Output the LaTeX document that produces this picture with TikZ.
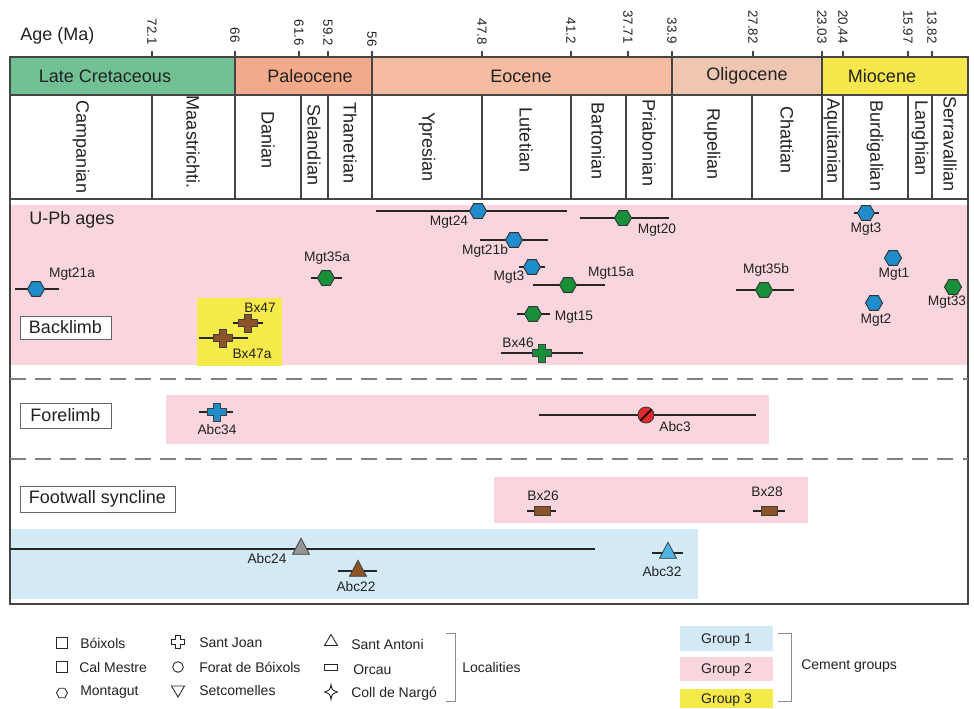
\documentclass[tikz,border=0pt]{standalone}
\usepackage{fontspec}
\setmainfont{Liberation Sans}
\definecolor{lcgreen}{HTML}{72C194}
\definecolor{paleoc}{HTML}{F2AA8A}
\definecolor{eocc}{HTML}{F5BCA1}
\definecolor{oligc}{HTML}{EEC6B1}
\definecolor{mioc}{HTML}{F6E84C}
\definecolor{grppink}{HTML}{F9D6DD}
\definecolor{grpblue}{HTML}{D3EAF6}
\definecolor{grpyel}{HTML}{F6E94A}
\definecolor{mblue}{HTML}{1F8DCB}
\definecolor{mgreen}{HTML}{18903A}
\definecolor{mbrown}{HTML}{8B5326}
\definecolor{mgray}{HTML}{959595}
\definecolor{mlblue}{HTML}{4DB5E0}
\definecolor{mred}{HTML}{E32A2A}
\definecolor{txt}{HTML}{222222}
\definecolor{frm}{HTML}{454545}
\begin{document}
\begin{tikzpicture}[x=0.75pt,y=-0.75pt,
  frame/.style={draw=frm, line width=0.9pt},
  big/.style={text=txt, font=\fontsize{13.5}{15}\selectfont, inner sep=0pt},
  stagelab/.style={big, rotate=-90},
  ticklab/.style={text=txt, font=\fontsize{10}{12}\selectfont, inner sep=0pt, rotate=-90, anchor=east},
  dlab/.style={text=txt, font=\fontsize{10.3}{12}\selectfont, inner sep=0pt},
  leg/.style={text=txt, font=\fontsize{10.5}{12}\selectfont, inner sep=0pt, anchor=west},
  ebar/.style={draw=black!85, line width=0.9pt},
  boxlab/.style={draw=black!60, fill=white, line width=0.6pt},
  dashsep/.style={draw=black!50, line width=1.1pt, dash pattern=on 12pt off 6.8pt},
  legsym/.style={draw=black!85, line width=0.65pt, fill=none},
  pics/hexm/.style={code={\draw[fill=#1, draw=black!80, line width=0.7pt] (0:8.5)--(60:8.5)--(120:8.5)--(180:8.5)--(240:8.5)--(300:8.5)--cycle;}},
  pics/hexleg/.style={code={\draw[legsym] (0:5.5)--(60:5.5)--(120:5.5)--(180:5.5)--(240:5.5)--(300:5.5)--cycle;}},
  pics/crossm/.style={code={\draw[fill=#1, draw=black!75, line width=0.6pt] (-3.5,-9)--(3.5,-9)--(3.5,-3.4)--(9.5,-3.4)--(9.5,3.4)--(3.5,3.4)--(3.5,9)--(-3.5,9)--(-3.5,3.4)--(-9.5,3.4)--(-9.5,-3.4)--(-3.5,-3.4)--cycle;}},
  pics/trim/.style={code={\draw[fill=#1, draw=black!75, line width=0.6pt] (0,-10.7)--(8.5,5.3)--(-8.5,5.3)--cycle;}},
  pics/rectm/.style={code={\draw[fill=#1, draw=black!75, line width=0.6pt] (-8,-4.5) rectangle (8,4.5);}}
]
\useasboundingbox (0,0) rectangle (974,708);
\fill[white] (0,0) rectangle (974,708);

% epoch bar
\fill[lcgreen] (10,57) rectangle (235,95);
\fill[paleoc] (235,57) rectangle (372,95);
\fill[eocc] (372,57) rectangle (672,95);
\fill[oligc] (672,57) rectangle (822,95);
\fill[mioc] (822,57) rectangle (968,95);
\node[big] (lc) at (105,76) {Late Cretaceous};
\node[big] (pal) at (310,76) {Paleocene};
\node[big] (eoc) at (521,76) {Eocene};
\node[big] (oli) at (747,76) {Oligocene};
\node[big] (mio) at (882,76) {Miocene};

% U-Pb panel and group boxes
\fill[grppink] (10,205) rectangle (968,365);
\fill[grpyel] (197,298) rectangle (282,366);
\fill[grppink] (166,395) rectangle (769,444);
\fill[grppink] (494,477) rectangle (808,523);
\fill[grpblue] (10,529) rectangle (698,599);

% frame
\draw[frame] (10,57) rectangle (968,604);
\draw[frame] (10,95) -- (968,95);
\draw[frame] (10,199) -- (968,199);
\foreach \xx in {235,372,672,822} \draw[frame] (\xx,57) -- (\xx,95);
\foreach \xx in {152,235,301,328,372,482,571,626,672,752,822,843,908,932} \draw[frame] (\xx,95) -- (\xx,199);
\foreach \xx in {152,235,299,328,372,482,571,628,672,753,822,843,908,932} \draw[draw=frm, line width=1.3pt] (\xx,51) -- (\xx,57);

% axis
\node[big, anchor=west] (age) at (20,36) {Age (Ma)};
\node[ticklab] (t1) at (152,45) {72.1};
\node[ticklab] (t2) at (235,43) {66};
\node[ticklab] (t3) at (299,46) {61.6};
\node[ticklab] (t4) at (328,46) {59.2};
\node[ticklab] (t5) at (372,47) {56};
\node[ticklab] (t6) at (482,45) {47.8};
\node[ticklab] (t7) at (571,44) {41.2};
\node[ticklab] (t8) at (628,44) {37.71};
\node[ticklab] (t9) at (672,44) {33.9};
\node[ticklab] (t10) at (753,44) {27.82};
\node[ticklab] (t11) at (822,44) {23.03};
\node[ticklab] (t12) at (843,44) {20.44};
\node[ticklab] (t13) at (908,44) {15.97};
\node[ticklab] (t14) at (932,44) {13.82};

% stages
\node[stagelab] (s1) at (81,147) {Campanian};
\node[stagelab] (s2) at (193,142) {Maastrichti.};
\node[stagelab] (s3) at (268,140) {Danian};
\node[stagelab] (s4) at (314,145) {Selandian};
\node[stagelab] (s5) at (350,143) {Thanetian};
\node[stagelab] (s6) at (427,147) {Ypresian};
\node[stagelab] (s7) at (526,140) {Lutetian};
\node[stagelab] (s8) at (598,141) {Bartonian};
\node[stagelab] (s9) at (649,143) {Priabonian};
\node[stagelab] (s10) at (712,144) {Rupelian};
\node[stagelab] (s11) at (787,140) {Chattian};
\node[stagelab] (s12) at (832,141) {Aquitanian};
\node[stagelab] (s13) at (875,146) {Burdigalian};
\node[stagelab] (s14) at (920,138) {Langhian};
\node[stagelab] (s15) at (950,144) {Serravallian};

% dashed separators
\draw[dashsep] (10,379) -- (968,379);
\draw[dashsep] (10,459) -- (968,459);

% section labels
\node[big, anchor=west] (upb) at (29,220) {U-Pb ages};
\draw[boxlab] (20,316) rectangle (111,339);
\node[big] (back) at (65.5,327.5) {Backlimb};
\draw[boxlab] (20,403) rectangle (111,428);
\node[big] (fore) at (65.5,415.5) {Forelimb};
\draw[boxlab] (20,486) rectangle (175,512);
\node[big] (foot) at (97.5,499) {Footwall syncline};

% error bars
\draw[ebar] (376,211) -- (567,211);
\draw[ebar] (580,218) -- (669,218);
\draw[ebar] (480,240) -- (548,240);
\draw[ebar] (519,267) -- (545,267);
\draw[ebar] (533,285) -- (605,285);
\draw[ebar] (517,314) -- (550,314);
\draw[ebar] (501,353) -- (583,353);
\draw[ebar, line width=1.4pt] (736,290) -- (794,290);
\draw[ebar] (854,213) -- (879,213);
\draw[ebar] (15,289) -- (59,289);
\draw[ebar] (311,278) -- (342,278);
\draw[ebar] (233,323) -- (263,323);
\draw[ebar] (199,338) -- (248,338);
\draw[ebar] (199,412) -- (233,412);
\draw[ebar] (539,415) -- (756,415);
\draw[ebar] (527,511) -- (556,511);
\draw[ebar] (753,511) -- (785,511);
\draw[ebar] (10,549) -- (595,549);
\draw[ebar] (338,571) -- (377,571);
\draw[ebar] (652,553) -- (683,553);

% markers
\pic at (478,211) {hexm=mblue};
\pic at (623,218) {hexm=mgreen};
\pic at (514,240) {hexm=mblue};
\pic at (532,267) {hexm=mblue};
\pic at (568,285) {hexm=mgreen};
\pic at (533,314) {hexm=mgreen};
\pic at (764,290) {hexm=mgreen};
\pic at (866,213) {hexm=mblue};
\pic at (893,258) {hexm=mblue};
\pic at (874,303) {hexm=mblue};
\pic at (953,287) {hexm=mgreen};
\pic at (36,289) {hexm=mblue};
\pic at (326,278) {hexm=mgreen};
\pic at (542,353) {crossm=mgreen};
\pic at (248,323) {crossm=mbrown};
\pic at (223,338) {crossm=mbrown};
\pic at (217,412) {crossm=mblue};
\pic at (542,511) {rectm=mbrown};
\pic at (769,511) {rectm=mbrown};
\pic at (301,549) {trim=mgray};
\pic at (358,571) {trim=mbrown};
\pic at (668,553) {trim=mlblue};
\draw[fill=mred, draw=black!80, line width=0.6pt] (646,415) circle (8);
\draw[black, line width=1.2pt] (640.5,420.5) -- (651.5,409.5);

% data labels
\node[dlab] (l1) at (449,222) {Mgt24};
\node[dlab] (l2) at (657,230) {Mgt20};
\node[dlab] (l3) at (485,251) {Mgt21b};
\node[dlab] (l4) at (509,277) {Mgt3};
\node[dlab] (l5) at (611,273) {Mgt15a};
\node[dlab] (l6) at (574,317) {Mgt15};
\node[dlab] (l7) at (518,343) {Bx46};
\node[dlab] (l8) at (766,270) {Mgt35b};
\node[dlab] (l9) at (866,229) {Mgt3};
\node[dlab] (l10) at (894,274) {Mgt1};
\node[dlab] (l11) at (876,320) {Mgt2};
\node[dlab] (l12) at (947,302) {Mgt33};
\node[dlab] (l13) at (72,274) {Mgt21a};
\node[dlab] (l14) at (327,258) {Mgt35a};
\node[dlab] (l15) at (260,308) {Bx47};
\node[dlab] (l16) at (252,354) {Bx47a};
\node[dlab] (l17) at (217,430) {Abc34};
\node[dlab] (l18) at (675,427) {Abc3};
\node[dlab] (l19) at (543,496) {Bx26};
\node[dlab] (l20) at (767,492) {Bx28};
\node[dlab] (l21) at (267,559) {Abc24};
\node[dlab] (l22) at (356,587) {Abc22};
\node[dlab] (l23) at (662,572) {Abc32};

% legend symbols
\draw[legsym] (56.5,637.5) rectangle (67.5,648.5);
\draw[legsym] (56.5,661.5) rectangle (67.5,672.5);
\pic at (62,693) {hexleg};
\draw[legsym] (175.5,635.5)--(180.5,635.5)--(180.5,639.5)--(184.5,639.5)--(184.5,644.5)--(180.5,644.5)--(180.5,648.5)--(175.5,648.5)--(175.5,644.5)--(171.5,644.5)--(171.5,639.5)--(175.5,639.5)--cycle;
\draw[legsym] (178,667) circle (5.3);
\draw[legsym] (171.5,686) -- (184.5,686) -- (178,697) -- cycle;
\draw[legsym] (331,634.5) -- (337.5,645.5) -- (324.5,645.5) -- cycle;
\draw[legsym] (324.5,664.5) rectangle (337.5,670.5);
\draw[legsym] (331,684.5) .. controls (332,690) .. (337.5,692) .. controls (332,694) .. (331,699.5) .. controls (330,694) .. (324.5,692) .. controls (330,690) .. (331,684.5) -- cycle;

% legend texts
\node[leg] (g1) at (80,643) {Bóixols};
\node[leg] (g2) at (79,667) {Cal Mestre};
\node[leg] (g3) at (80,692) {Montagut};
\node[leg] (g4) at (199,643) {Sant Joan};
\node[leg] (g5) at (199,667) {Forat de Bóixols};
\node[leg] (g6) at (199,690) {Setcomelles};
\node[leg] (g7) at (351,644) {Sant Antoni};
\node[leg] (g8) at (353,670) {Orcau};
\node[leg] (g9) at (351,694) {Coll de Nargó};
\draw[draw=black!45, line width=0.7pt] (446,633) -- (455,633) -- (455,701) -- (446,701);
\node[leg] (loc) at (462,667) {Localities};

% cement group legend
\fill[grpblue] (680,626) rectangle (773,651);
\fill[grppink] (680,657) rectangle (773,681);
\fill[grpyel] (680,689) rectangle (773,708);
\node[leg, anchor=center] (gr1) at (726.5,640) {Group 1};
\node[leg, anchor=center] (gr2) at (726.5,670) {Group 2};
\node[leg, anchor=center] (gr3) at (726.5,700) {Group 3};
\draw[draw=black!45, line width=0.7pt] (778,633) -- (791,633) -- (791,701) -- (778,701);
\node[leg] (cg) at (801,666) {Cement groups};
\end{tikzpicture}
\end{document}
